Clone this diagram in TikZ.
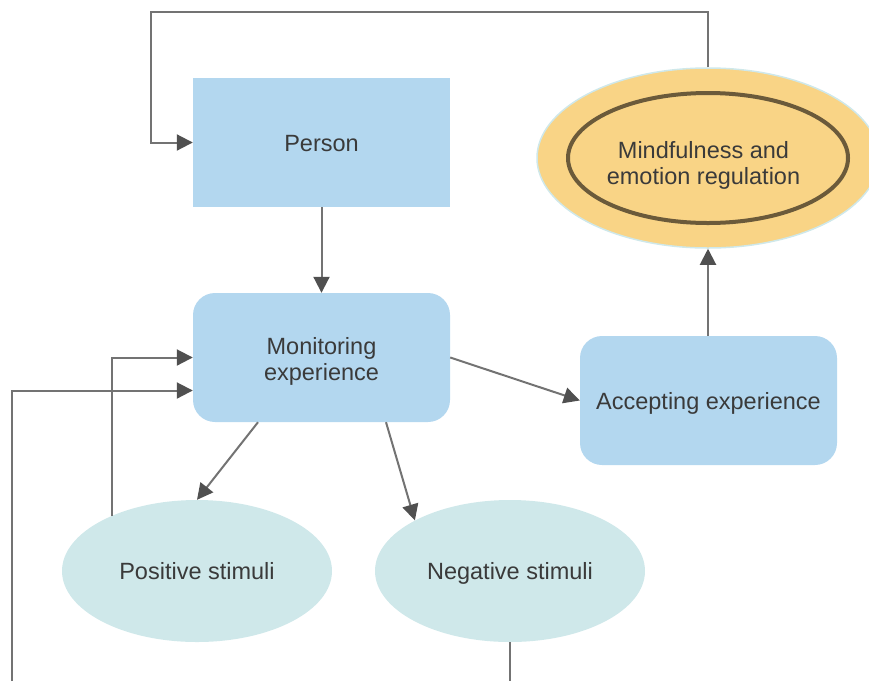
\documentclass[tikz,border=0pt]{standalone}
\usepackage{fontspec}
\setmainfont{Liberation Sans}
\usetikzlibrary{arrows.meta,shapes.geometric,calc}
\definecolor{boxblue}{HTML}{B3D7EF}
\definecolor{stimcyan}{HTML}{CFE8EA}
\definecolor{mindorange}{HTML}{F9D486}
\definecolor{mindedge}{HTML}{CFE8EA}
\definecolor{innerbrown}{HTML}{6B5A3A}
\definecolor{linegray}{HTML}{737373}
\definecolor{tipgray}{HTML}{505050}
\definecolor{txtgray}{HTML}{3A3A3A}
\tikzset{
  lbl/.style={font=\fontsize{23.5}{26}\selectfont, text=txtgray, align=center},
  one/.style={text height=17pt, text depth=0pt},
  sqbox/.style={lbl, rectangle, fill=boxblue, minimum width=257pt, minimum height=129pt, inner sep=0pt},
  rbox/.style={sqbox, rounded corners=22pt},
  stim/.style={lbl, one, ellipse, fill=stimcyan, minimum width=270pt, minimum height=142pt, inner sep=0pt},
  conn/.style={draw=linegray, line width=2pt},
  arr/.style={conn, -{Triangle[length=16pt,width=16pt,color=tipgray]}}
}
\begin{document}
\begin{tikzpicture}[x=1pt,y=-1pt]
\useasboundingbox (0,0) rectangle (869,681);
\clip (0,0) rectangle (869,681);
\node[sqbox, one] (person) at (321.5,142.5) {Person};
\node[rbox] (mon) at (321.5,357.5) {};
\node[lbl] (montxt) at ([yshift=-3.5pt]mon.center) {Monitoring\\experience};
\node[rbox, one] (acc) at (708.5,400.5) {Accepting experience};
\node[stim] (pos) at (197,571) {Positive stimuli};
\node[stim] (neg) at (510,571) {Negative stimuli};
\node[ellipse, fill=mindorange, draw=mindedge, line width=1.5pt, minimum width=342pt, minimum height=180pt, inner sep=0pt] (mind) at (708,158) {};
\node[ellipse, draw=innerbrown, line width=4pt, minimum width=280pt, minimum height=130pt, inner sep=0pt] (mindin) at (708,158) {};
\node[lbl] (mindtxt) at ([xshift=-4.5pt,yshift=-7pt]mindin.center) {Mindfulness and\\emotion regulation};
\coordinate (tl) at (151,12);
\coordinate (bl) at (12,681);
\coordinate (nb) at (510,681);
% connectors
\draw[arr] (person.south) -- (mon.north);
\draw[arr] ([xshift=-63.5pt]mon.south) -- (pos.north);
\draw[arr] ([xshift=64.5pt]mon.south) -- (neg.152);
\draw[arr] (mon.east) -- (acc.west);
\draw[arr] (acc.north -| mind.south) -- (mind.south);
\draw[arr] (mind.north) |- (tl) |- (person.west);
\draw[arr] (pos.147.5) |- (mon.west);
\draw[arr] (bl) |- ([yshift=-33pt]mon.west);
\draw[conn] (neg.south) -- (nb);
\end{tikzpicture}
\end{document}
